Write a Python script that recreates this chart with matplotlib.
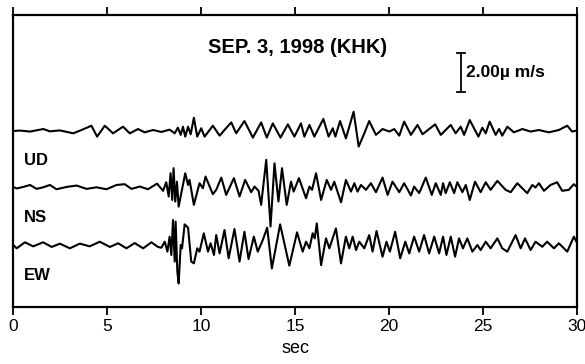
import matplotlib
matplotlib.use("Agg")
import matplotlib.pyplot as plt

plt.rcParams['font.family'] = ['Liberation Sans', 'DejaVu Sans']

# ---- data: (time in s, velocity in micro-m/s) ----
ud_t = [0.0, 0.36, 0.89, 1.60, 1.95, 2.48, 3.19, 3.63, 4.16, 4.46, 4.87, 5.31, 5.84, 6.20, 6.64, 6.99, 7.44,
        7.88, 8.32, 8.59, 8.76, 8.91, 9.03, 9.15, 9.30, 9.44, 9.61, 9.79, 10.00, 10.18, 10.62, 10.98, 11.24,
        11.60, 11.86, 12.30, 12.75, 13.19, 13.49, 13.81, 14.22, 14.61, 14.96, 15.31,
        15.49, 15.76, 16.02, 16.50, 16.78, 17.00, 17.14, 17.39, 17.70, 18.11, 18.38, 18.68, 18.94, 19.30,
        19.65, 20.01, 20.27, 20.54, 20.80, 21.16, 21.51, 21.78, 22.13, 22.45, 22.75,
        23.28, 23.54, 23.81, 23.99, 24.29, 24.75, 24.96, 25.14, 25.35, 25.67, 25.85, 26.02, 26.29, 26.64,
        27.09, 27.53, 27.97, 28.50, 29.03, 29.48, 29.74, 29.97]
ud_v = [0.0, 0.02, -0.03, 0.10, -0.02, 0.03, -0.12, 0.05, 0.27, -0.29, 0.27, -0.12, 0.22, -0.12, 0.10, -0.07, 0.05,
        -0.05, 0.07, -0.12, 0.17, -0.20, 0.22, -0.29, 0.22, -0.17, 0.68, -0.29, 0.14, -0.29, 0.27, -0.24, 0.05,
        0.44, -0.12, 0.51, -0.34, 0.44, -0.34, 0.39, -0.34, 0.34, -0.29, 0.39,
        -0.29, 0.31, -0.29, 0.62, -0.29, 0.14, -0.29, 0.51, -0.38, 0.99, -0.80, -0.12, 0.51, -0.20,
        0.10, -0.03, 0.10, -0.24, 0.48, -0.20, 0.31, -0.17, 0.10, 0.34, -0.20,
        0.31, -0.12, 0.22, -0.20, 0.56, -0.29, 0.17, -0.12, 0.48, -0.20, 0.10, -0.24, 0.22, -0.07,
        0.10, -0.03, 0.05, -0.07, 0.05, 0.27, -0.03, 0.02]

ns_t = [0.0, 0.18, 0.53, 0.89, 1.24, 1.59, 1.95, 2.30, 2.84, 3.37, 3.90, 4.43, 4.96, 5.49, 5.93, 6.29, 6.73, 7.17,
        7.65, 7.97, 8.14, 8.27, 8.37, 8.46, 8.53, 8.62, 8.71, 8.80, 9.15, 9.30, 9.38, 9.61, 9.91, 10.09, 10.23,
        10.62, 10.80, 11.07, 11.33, 11.74, 12.04, 12.34, 12.66, 12.84, 13.05, 13.19, 13.46, 13.69, 13.90, 14.11,
        14.30, 14.55, 14.78, 14.92, 15.20,
        15.58, 15.76, 15.90, 16.11, 16.38, 16.68, 16.91, 17.08, 17.44, 17.70, 17.97, 18.15, 18.32, 18.50, 18.77,
        19.03, 19.30, 19.65, 19.92, 20.18, 20.54, 20.80, 21.16, 21.33, 21.60, 21.95, 22.27, 22.48, 22.75,
        22.87, 23.01, 23.23, 23.46, 23.63, 23.90, 24.08, 24.29, 24.57, 24.87, 25.14, 25.40, 25.76, 26.20, 26.47,
        26.82, 27.09, 27.35, 27.62, 27.79, 27.97, 28.24, 28.59, 28.94, 29.21, 29.56, 29.83, 29.97]
ns_v = [0.05, -0.03, 0.05, 0.15, -0.05, 0.03, 0.15, -0.07, 0.05, 0.12, -0.05, 0.03, -0.07, 0.15, 0.19, -0.05, 0.07, -0.07,
        0.22, -0.15, 0.29, -0.44, 0.75, -0.62, 1.01, -0.70, 0.32, -0.96, 0.75, 0.15, 0.41, -0.87, 0.24, -0.02, 0.58,
        -0.32, -0.10, 0.53, -0.36, 0.50, -0.44, 0.41, -0.22, 0.07, -0.15, -0.87, 1.44, -1.98, 1.26, -0.70,
        1.01, -0.87, 0.32, -0.19, 0.50,
        -0.53, 0.07, -0.10, 0.75, -0.62, 0.41, -0.10, 0.32, -0.74, 0.41, -0.19, 0.24, -0.19, 0.15, -0.10,
        0.24, -0.22, 0.53, -0.36, 0.32, -0.22, 0.24, -0.39, 0.07, -0.27, 0.53, -0.36, 0.24, -0.36,
        0.24, -0.27, 0.29, -0.27, 0.29, -0.22, 0.15, -0.62, 0.32, -0.22, 0.29, -0.10, 0.36, -0.10, -0.22,
        0.24, -0.02, -0.27, 0.15, 0.02, 0.24, -0.15, 0.15, 0.29, -0.15, -0.10, 0.19, 0.07]

ew_t = [0.0, 0.18, 0.62, 1.06, 1.59, 2.04, 2.48, 3.01, 3.54, 4.07, 4.60, 5.14, 5.58, 6.02, 6.46, 6.91, 7.35, 7.70,
        7.88, 8.06, 8.20, 8.32, 8.41, 8.50, 8.59, 8.64, 8.73, 8.80, 8.91, 8.98, 9.12, 9.30, 9.47, 9.61, 9.79, 9.91,
        10.14, 10.36, 10.50, 10.68, 10.80, 10.98, 11.24, 11.46, 11.77, 12.04, 12.30, 12.52, 12.80, 13.01, 13.28,
        13.51, 13.76, 14.20, 14.69, 15.10, 15.40,
        15.58, 15.76, 15.93, 16.04, 16.15, 16.38, 16.64, 16.82, 17.17, 17.44, 17.70, 17.88, 18.06, 18.24, 18.41,
        18.68, 18.94, 19.12, 19.33, 19.65, 19.86, 20.04, 20.32, 20.59, 20.86, 21.07, 21.33, 21.60, 21.86, 22.13,
        22.40, 22.66,
        22.87, 23.05, 23.28, 23.51, 23.72, 23.93, 24.16, 24.43, 24.70, 24.87, 25.14, 25.40, 25.76, 26.02, 26.29,
        26.73, 27.00, 27.23, 27.53, 27.79, 28.15, 28.41, 28.77, 29.03, 29.48, 29.83, 29.97]
ew_v = [0.0, -0.17, 0.14, -0.07, 0.14, -0.10, 0.07, -0.17, 0.07, -0.07, 0.17, -0.10, 0.09, -0.17, 0.10, -0.17, 0.14, -0.10,
        -0.14, 0.17, -0.34, 0.43, -0.51, 1.28, -0.85, 1.20, -1.37, -1.97, 0.0, -0.17, 1.06, 0.89, -0.85, -0.94, -0.17, -0.34,
        0.60, -0.34, 0.09, -0.51, 0.51, -0.43, 0.77, -0.68, 0.82, -0.85, 0.68, -0.72, 0.43, -0.34, 0.26,
        0.89, -1.20, 1.06, -1.06, 0.65, -0.34,
        0.17, -0.17, 0.60, 0.34, 1.11, -1.03, 0.34, -0.17, 0.85, -0.94, 0.43, -0.17, 0.43, -0.26, 0.17,
        -0.17, 0.51, -0.34, 0.72, -0.60, 0.17, -0.34, 0.68, -0.68, 0.17, -0.43, 0.43, -0.34, 0.51, -0.43,
        0.43, -0.43,
        0.43, -0.51, 0.43, -0.60, 0.34, -0.17, 0.34, -0.34, 0.0, -0.26, 0.17, -0.17, 0.34, -0.17, -0.34,
        0.51, -0.17, 0.34, -0.26, 0.17, -0.09, 0.17, -0.17, 0.09, -0.34, 0.43, 0.17]

components = ["UD", "NS", "EW"]
offsets = [0.0, -2.92, -5.85]      # vertical offset of each trace (micro-m/s)
xticks = [0, 5, 10, 15, 20, 25, 30]
title = "SEP. 3, 1998 (KHK)"
scale_value = 2.00                 # micro-m/s

fig = plt.figure(figsize=(5.85, 3.64), dpi=100)
ax = fig.add_axes([0.0227, 0.1566, 0.9637, 0.8022])

for (t, v), off in zip([(ud_t, ud_v), (ns_t, ns_v), (ew_t, ew_v)], offsets):
    ax.plot(t, [a + off for a in v], color='black', lw=1.5, solid_joinstyle='round')

# component labels (below each trace)
for name, off in zip(components, offsets):
    ax.text(0.55, off - 1.54, name, fontsize=12, fontweight='bold', ha='left', va='center')

# title
ax.text(0.504, 0.89, title, transform=ax.transAxes, fontsize=14.5, fontweight='bold',
        ha='center', va='center')

# scale bar
ax.plot([23.81, 23.81], [2.0, 2.0 + scale_value], color='black', lw=1.3)
for yv in (2.0, 2.0 + scale_value):
    ax.plot([23.6, 24.02], [yv, yv], color='black', lw=1.3)
ax.text(24.07, 3.0, f"{scale_value:.2f}\u00b5 m/s", fontsize=12.5, fontweight='bold',
        ha='left', va='center')

ax.set_xlim(0, 30)
ax.set_ylim(-9.03, 5.95)
ax.set_xticks(xticks)
ax.set_xticklabels([str(x) for x in xticks])
ax.set_yticks([])
ax.tick_params(axis='x', direction='out', length=6, width=1.3, top=True, labeltop=False,
               labelsize=12.5, pad=3)
for s in ax.spines.values():
    s.set_linewidth(1.6)
ax.set_xlabel("sec", fontsize=13, labelpad=4)

fig.savefig("out.png", dpi=100)
